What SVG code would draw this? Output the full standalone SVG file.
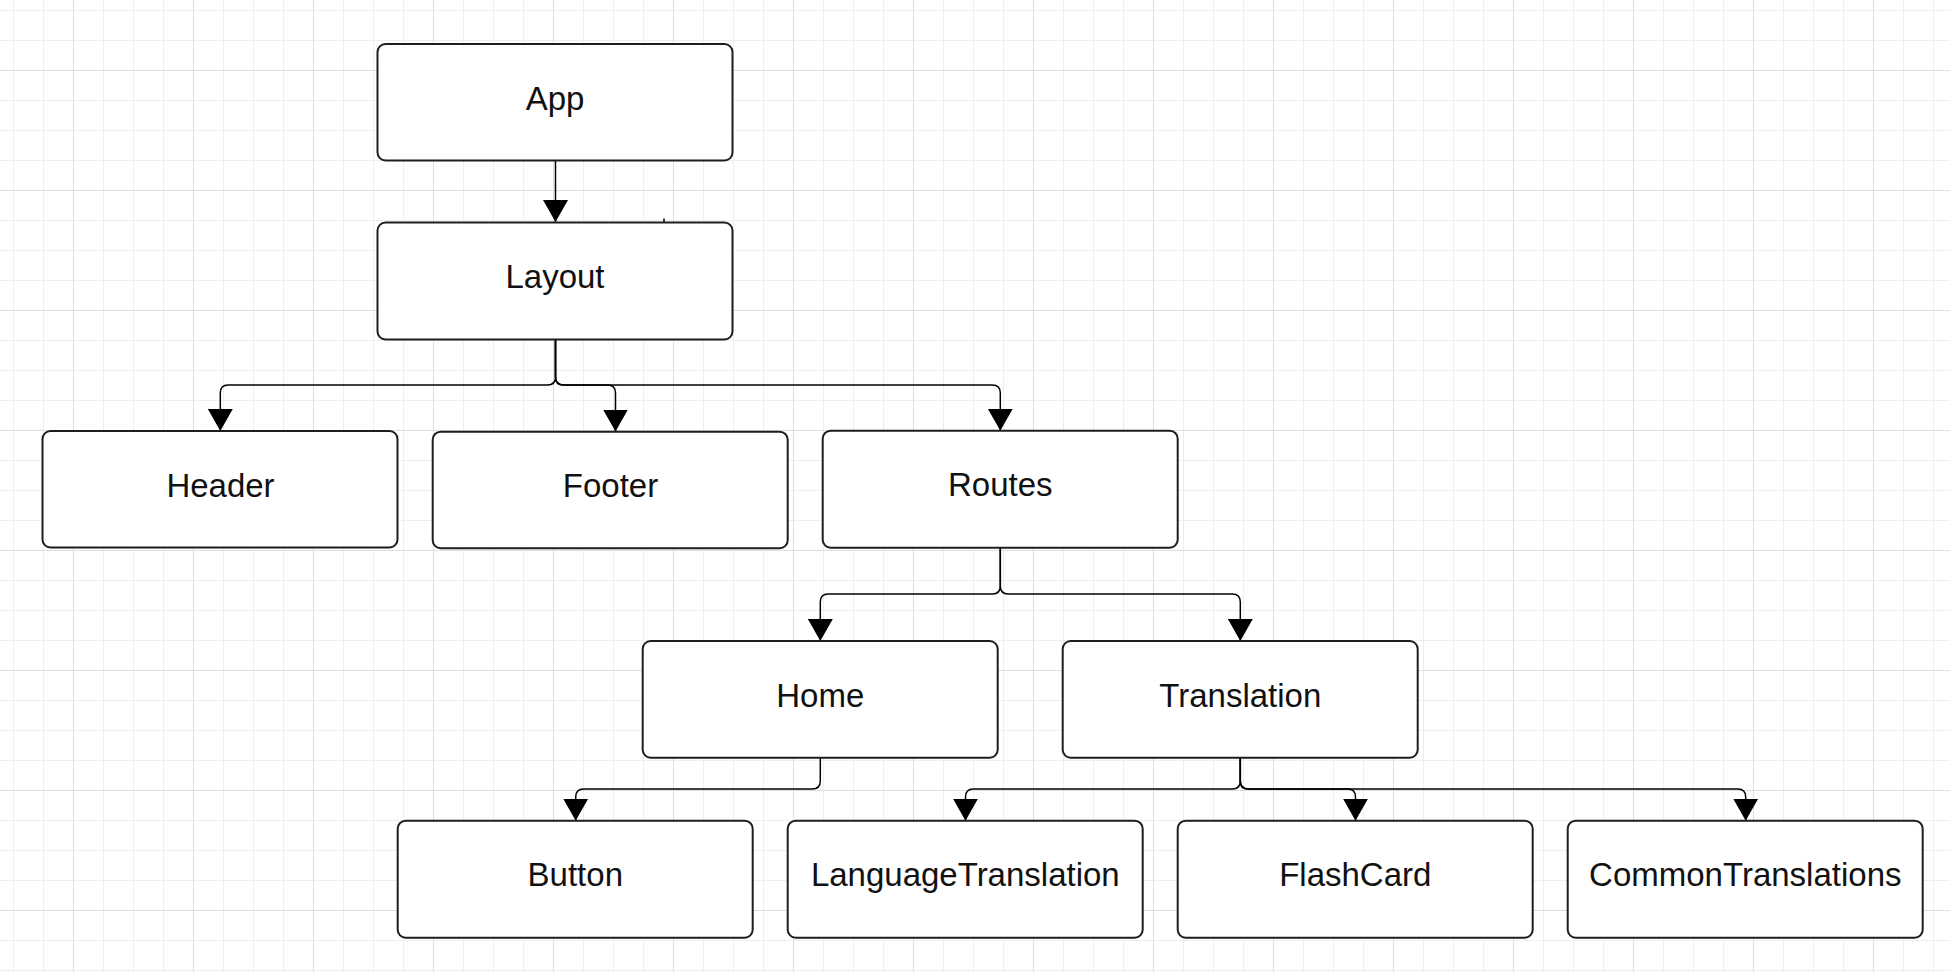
<svg xmlns="http://www.w3.org/2000/svg" width="1950" height="972" viewBox="0 0 1950 972">
  <defs>
    <pattern id="minor" x="13" y="10" width="30" height="30" patternUnits="userSpaceOnUse">
      <path d="M0.5 0V30M0 0.5H30" stroke="#eeeeee" stroke-width="1" fill="none"/>
    </pattern>
    <pattern id="major" x="73" y="70" width="120" height="120" patternUnits="userSpaceOnUse">
      <path d="M0.5 0V120M0 0.5H120" stroke="#dedede" stroke-width="1" fill="none"/>
    </pattern>
    <marker id="arrow" markerUnits="userSpaceOnUse" viewBox="0 0 22 25" markerWidth="22" markerHeight="25" refX="22" refY="12.5" orient="auto">
      <path d="M0 0L22 12.5L0 25Z" fill="#000"/>
    </marker>
  </defs>
  <style>
    .box { fill: #ffffff; stroke: #1e1e1e; stroke-width: 2; }
    .lbl { font-family: "Liberation Sans", Arial, sans-serif; font-size: 33px; fill: #111111; text-anchor: middle; }
    .conn { fill: none; stroke: #000000; stroke-width: 1.5; marker-end: url(#arrow); }
  </style>
  <rect width="1950" height="972" fill="#ffffff"/>
  <rect width="1950" height="972" fill="url(#minor)"/>
  <rect width="1950" height="972" fill="url(#major)"/>

  <g id="connectors">
    <path class="conn" d="M555.5 160.5V222"/>
    <path class="conn" d="M555.5 339.5V377Q555.5 385 547.5 385H228.3Q220.3 385 220.3 393V431"/>
    <path class="conn" d="M555.5 339.5V377Q555.5 385 563.5 385H607.5Q615.5 385 615.5 393V431.5"/>
    <path class="conn" d="M555.5 339.5V377Q555.5 385 563.5 385H992.3Q1000.3 385 1000.3 393V430.7"/>
    <path class="conn" d="M1000.3 548V586Q1000.3 594 992.3 594H828.3Q820.3 594 820.3 602V641"/>
    <path class="conn" d="M1000.3 548V586Q1000.3 594 1008.3 594H1232.3Q1240.3 594 1240.3 602V641"/>
    <path class="conn" d="M820.3 757.7V781Q820.3 789 812.3 789H583.7Q575.7 789 575.7 797V820.7"/>
    <path class="conn" d="M1240.3 757.7V781Q1240.3 789 1232.3 789H973.5Q965.5 789 965.5 797V820.7"/>
    <path class="conn" d="M1240.3 757.7V781Q1240.3 789 1248.3 789H1347.5Q1355.5 789 1355.5 797V820.7"/>
    <path class="conn" d="M1240.3 757.7V781Q1240.3 789 1248.3 789H1737.7Q1745.7 789 1745.7 797V820.7"/>
    <path d="M664 218.5V222" stroke="#000" stroke-width="1.5" fill="none"/>
  </g>

  <g id="app"><rect class="box" x="377.5" y="44" width="355" height="116.5" rx="8"/><text class="lbl" x="555" y="109.5">App</text></g>
  <g id="layout"><rect class="box" x="377.5" y="222.5" width="355" height="117" rx="8"/><text class="lbl" x="555" y="288">Layout</text></g>
  <g id="header"><rect class="box" x="42.5" y="431" width="355" height="116.5" rx="8"/><text class="lbl" x="220.5" y="496.5">Header</text></g>
  <g id="footer"><rect class="box" x="432.7" y="431.7" width="355" height="116.5" rx="8"/><text class="lbl" x="610.5" y="497">Footer</text></g>
  <g id="routes"><rect class="box" x="822.7" y="430.7" width="355" height="117" rx="8"/><text class="lbl" x="1000.3" y="496.2">Routes</text></g>
  <g id="home"><rect class="box" x="642.7" y="641" width="355" height="116.7" rx="8"/><text class="lbl" x="820.3" y="706.5">Home</text></g>
  <g id="translation"><rect class="box" x="1062.7" y="641" width="355" height="116.7" rx="8"/><text class="lbl" x="1240.3" y="706.5">Translation</text></g>
  <g id="button"><rect class="box" x="397.7" y="820.7" width="355" height="117" rx="8"/><text class="lbl" x="575.3" y="886.2">Button</text></g>
  <g id="languagetranslation"><rect class="box" x="787.7" y="820.7" width="355" height="117" rx="8"/><text class="lbl" x="965.3" y="886.2">LanguageTranslation</text></g>
  <g id="flashcard"><rect class="box" x="1177.7" y="820.7" width="355" height="117" rx="8"/><text class="lbl" x="1355.3" y="886.2">FlashCard</text></g>
  <g id="commontranslations"><rect class="box" x="1567.7" y="820.7" width="355" height="117" rx="8"/><text class="lbl" x="1745.3" y="886.2">CommonTranslations</text></g>
</svg>
